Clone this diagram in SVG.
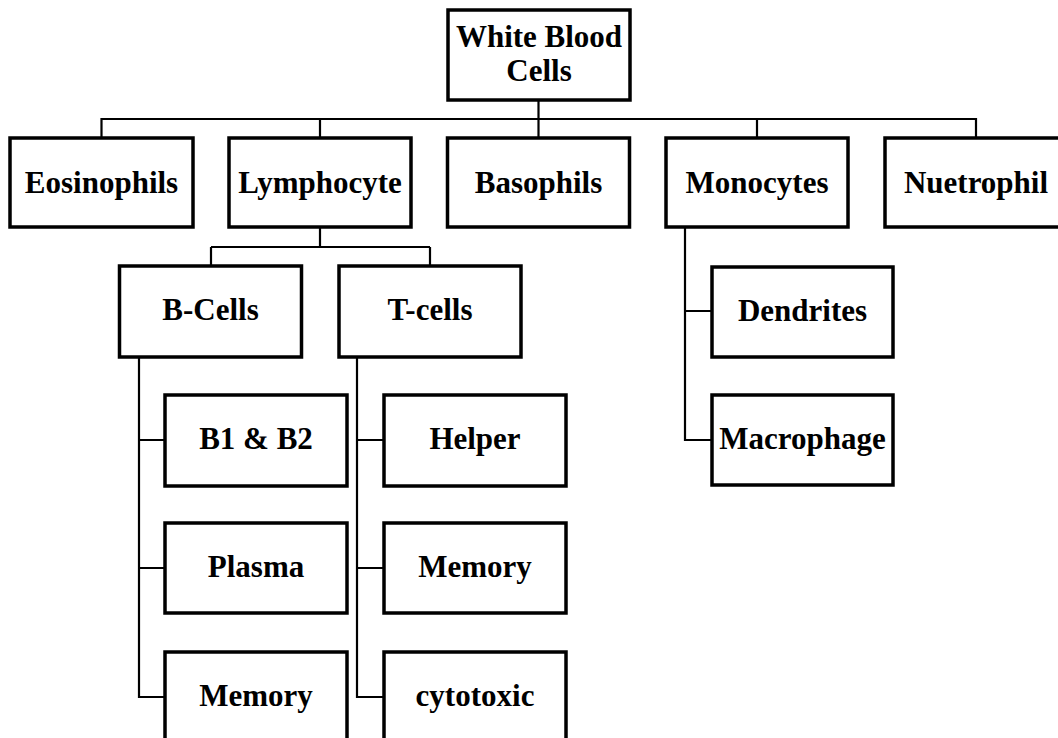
<svg xmlns="http://www.w3.org/2000/svg" width="1058" height="738" viewBox="0 0 1058 738">
<style>
.box{fill:#fff;stroke:#000;stroke-width:3.5}
.lbl{font-family:"Liberation Serif","Times New Roman",serif;font-weight:bold;font-size:31px;fill:#000;text-anchor:middle}
.con{fill:none;stroke:#000;stroke-width:2.2}
</style>
<rect width="1058" height="738" fill="#fff"/>
<g id="connectors">
<path class="con" d="M538.5 100V138M101.5 138V119H976V138M320 119V138M757 119V138"/>
<path class="con" d="M320 227V247M211 247H430M211 247V266M430 247V266"/>
<path class="con" d="M139 357V697H165M139 440H165M139 568H165"/>
<path class="con" d="M357 357V697H384M357 440H384M357 568H384"/>
<path class="con" d="M685 227V440H712M685 311H712"/>
</g>
<g id="n-root"><rect class="box" x="448" y="10" width="182" height="90"/><text class="lbl" x="539" y="47">White Blood</text><text class="lbl" x="539" y="81">Cells</text></g>
<g id="n-eos"><rect class="box" x="10" y="138" width="183" height="89"/><text class="lbl" x="101.5" y="193">Eosinophils</text></g>
<g id="n-lym"><rect class="box" x="229" y="138" width="182" height="89"/><text class="lbl" x="320" y="193">Lymphocyte</text></g>
<g id="n-bas"><rect class="box" x="447.5" y="138" width="182" height="89"/><text class="lbl" x="538.5" y="193">Basophils</text></g>
<g id="n-mono"><rect class="box" x="666" y="138" width="182" height="89"/><text class="lbl" x="757" y="193">Monocytes</text></g>
<g id="n-neu"><rect class="box" x="885" y="138" width="182" height="89"/><text class="lbl" x="976" y="193">Nuetrophil</text></g>
<g id="n-bcells"><rect class="box" x="119.5" y="266" width="182" height="91"/><text class="lbl" x="210.5" y="320">B-Cells</text></g>
<g id="n-tcells"><rect class="box" x="339" y="266" width="182" height="91"/><text class="lbl" x="430" y="320">T-cells</text></g>
<g id="n-b1b2"><rect class="box" x="165" y="395" width="182" height="91"/><text class="lbl" x="256" y="449">B1 &amp; B2</text></g>
<g id="n-plasma"><rect class="box" x="165" y="523" width="182" height="90"/><text class="lbl" x="256" y="577">Plasma</text></g>
<g id="n-bmem"><rect class="box" x="165" y="652" width="182" height="91"/><text class="lbl" x="256" y="706">Memory</text></g>
<g id="n-helper"><rect class="box" x="384" y="395" width="182" height="91"/><text class="lbl" x="475" y="449">Helper</text></g>
<g id="n-tmem"><rect class="box" x="384" y="523" width="182" height="90"/><text class="lbl" x="475" y="577">Memory</text></g>
<g id="n-cyto"><rect class="box" x="384" y="652" width="182" height="91"/><text class="lbl" x="475" y="706">cytotoxic</text></g>
<g id="n-dend"><rect class="box" x="712" y="267" width="181" height="90"/><text class="lbl" x="802.5" y="321">Dendrites</text></g>
<g id="n-macro"><rect class="box" x="712" y="395" width="181" height="90"/><text class="lbl" x="802.5" y="449">Macrophage</text></g>
</svg>
